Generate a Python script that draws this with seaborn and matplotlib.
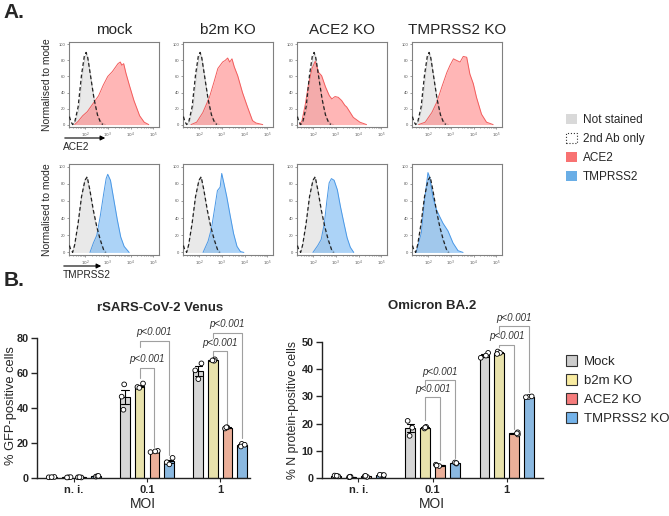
import numpy as np
import pandas as pd
import matplotlib
matplotlib.use("Agg")
import matplotlib.pyplot as plt
import seaborn as sns
from matplotlib.patches import Patch

# ---------------- DATA ----------------
# Panel A: flow histograms (x = log10 fluorescence, y = % of mode)
hist_cols = ["mock", "b2m KO", "ACE2 KO", "TMPRSS2 KO"]

ns_top_x = [1.45, 1.6, 1.75, 1.9, 2.0, 2.07, 2.15, 2.3, 2.45, 2.6, 2.75, 2.9]
ns_top_y = [0, 4, 22, 62, 84, 88, 80, 50, 24, 9, 2, 0]
ab2_top_x = [1.32, 1.38, 1.46, 1.55, 1.7, 1.85, 1.97, 2.05, 2.12, 2.25, 2.4, 2.55, 2.68, 2.78]
ab2_top_y = [10, 4, 0, 3, 22, 62, 85, 90, 84, 60, 32, 12, 3, 0]

ns_bot_x = [1.45, 1.55, 1.7, 1.85, 2.0, 2.08, 2.2, 2.35, 2.5, 2.65, 2.8, 2.95]
ns_bot_y = [0, 8, 32, 64, 84, 88, 75, 50, 30, 14, 4, 0]
ab2_bot_x = [1.32, 1.38, 1.46, 1.55, 1.7, 1.85, 2.0, 2.1, 2.22, 2.37, 2.52, 2.67, 2.82, 2.9]
ab2_bot_y = [8, 3, 0, 9, 34, 65, 84, 88, 72, 49, 30, 15, 3, 0]

ace2_mock_x = [1.55, 1.7, 1.9, 2.1, 2.3, 2.6, 2.8, 3.0, 3.2, 3.35, 3.45, 3.55, 3.62, 3.7, 3.8, 3.95, 4.15, 4.4, 4.6, 4.8]
ace2_mock_y = [0, 4, 11, 16, 24, 36, 49, 60, 66, 72, 76, 78, 74, 76, 64, 49, 30, 11, 3, 0]
ace2_b2m_x = [1.65, 1.9, 2.17, 2.46, 2.68, 2.83, 3.04, 3.15, 3.26, 3.35, 3.45, 3.55, 3.7, 3.91, 4.13, 4.35, 4.5, 4.8]
ace2_b2m_y = [0, 3, 15, 34, 55, 70, 78, 80, 83, 78, 82, 72, 61, 40, 22, 5, 2, 0]
ace2_ace2ko_x = [1.42, 1.52, 1.67, 1.81, 1.96, 2.1, 2.25, 2.38, 2.55, 2.72, 2.83, 2.97, 3.11, 3.26, 3.4, 3.48, 3.77, 4.06, 4.35]
ace2_ace2ko_y = [0, 5, 26, 51, 70, 79, 65, 61, 47, 36, 32, 35, 34, 30, 24, 22, 9, 3, 0]
ace2_tmpko_x = [1.59, 1.88, 2.17, 2.39, 2.61, 2.83, 2.97, 3.12, 3.26, 3.41, 3.55, 3.7, 3.84, 3.99, 4.13, 4.35, 4.57, 4.86]
ace2_tmpko_y = [0, 3, 15, 28, 47, 65, 74, 82, 80, 78, 85, 84, 63, 51, 34, 13, 3, 0]

tmp_mock_x = [2.22, 2.37, 2.52, 2.67, 2.82, 2.93, 3.0, 3.12, 3.27, 3.42, 3.57, 3.72, 3.94]
tmp_mock_y = [0, 11, 20, 42, 68, 86, 91, 84, 61, 38, 18, 7, 0]
tmp_b2m_x = [2.18, 2.4, 2.55, 2.7, 2.81, 2.93, 3.0, 3.1, 3.22, 3.37, 3.52, 3.67, 3.82, 3.97]
tmp_b2m_y = [0, 13, 28, 53, 72, 76, 92, 80, 65, 43, 22, 7, 1, 0]
tmp_ace2ko_x = [2.0, 2.21, 2.36, 2.5, 2.61, 2.71, 2.81, 2.93, 3.07, 3.21, 3.36, 3.5, 3.64, 3.79]
tmp_ace2ko_y = [0, 8, 15, 34, 60, 81, 86, 84, 73, 53, 34, 17, 6, 0]
tmp_tmpko_x = [1.49, 1.71, 1.85, 2.0, 2.07, 2.22, 2.37, 2.51, 2.66, 2.88, 3.1, 3.32, 3.54]
tmp_tmpko_y = [0, 23, 60, 93, 88, 64, 50, 42, 34, 25, 11, 2, 0]

# Panel B: bar charts (3 replicates each)
moi_labels = ["n. i.", "0.1", "1"]
conditions = ["Mock", "b2m KO", "ACE2 KO", "TMPRSS2 KO"]

gfp_mock = [[0.4, 0.6, 0.5], [53.5, 46.5, 39.0], [65.5, 61.5, 56.5]]
gfp_b2m = [[0.4, 0.5, 0.3], [54.0, 52.0, 51.5], [67.8, 67.0, 67.2]]
gfp_ace2 = [[0.3, 0.4, 0.5], [15.5, 14.8, 15.2], [28.3, 28.9, 29.0]]
gfp_tmp = [[0.8, 1.0, 1.2], [11.5, 9.0, 7.8], [19.5, 18.0, 19.0]]

n_mock = [[0.6, 0.9, 0.8], [21.0, 18.5, 15.5], [46.0, 45.0, 44.2]]
n_b2m = [[0.3, 0.5, 0.4], [18.2, 18.8, 18.6], [46.5, 46.0, 45.6]]
n_ace2 = [[0.4, 0.6, 0.8], [4.4, 4.9, 4.6], [16.0, 16.8, 16.4]]
n_tmp = [[1.0, 1.2, 1.1], [5.3, 5.7, 5.5], [29.8, 30.0, 29.7]]

# brackets: (moi index, from cond, to cond, line y, left leg bottom, right leg bottom)
gfp_brackets = [(1, 1, 2, 63, 57, 18), (1, 1, 3, 78.5, 75, 13),
                (2, 1, 2, 72.5, 70, 31), (2, 1, 3, 83, 80, 23)]
n_brackets = [(1, 1, 2, 29.6, 21.5, 6.5), (1, 1, 3, 36, 33, 7.2),
              (2, 1, 2, 49, 48, 18), (2, 1, 3, 55.7, 53, 31.5)]
p_text = "p<0.001"

bar_colors = ["#d6d6d6", "#f2eaa2", "#f9a98b", "#7cb9ee"]
legend_b_colors = ["#cccccc", "#f8eba0", "#f57c7c", "#74b3ea"]

# ---------------- FIGURE ----------------
sns.set_theme(style="ticks")
plt.rcParams['font.family'] = ['Liberation Sans', 'DejaVu Sans']
np.random.seed(7)

W, H = 669, 516
fig = plt.figure(figsize=(W / 100, H / 100), dpi=100)


def ax_px(left, top, width, height):
    return fig.add_axes([left / W, 1 - (top + height) / H, width / W, height / H])


def ftext(x, y, s, **kw):
    return fig.text(x / W, 1 - y / H, s, **kw)


# ---- Panel A ----
col_lefts = [69, 183, 297, 412]
hist_w = 90
rows = [
    dict(top=42, h=85, ns=(ns_top_x, ns_top_y), ab=(ab2_top_x, ab2_top_y),
         stain=[(ace2_mock_x, ace2_mock_y), (ace2_b2m_x, ace2_b2m_y),
                (ace2_ace2ko_x, ace2_ace2ko_y), (ace2_tmpko_x, ace2_tmpko_y)],
         fill="#ff6f6f", edge="#f25c5c"),
    dict(top=164, h=91, ns=(ns_bot_x, ns_bot_y), ab=(ab2_bot_x, ab2_bot_y),
         stain=[(tmp_mock_x, tmp_mock_y), (tmp_b2m_x, tmp_b2m_y),
                (tmp_ace2ko_x, tmp_ace2ko_y), (tmp_tmpko_x, tmp_tmpko_y)],
         fill="#5aa8f0", edge="#4a98e6"),
]
minor = [np.log10(k) + d for d in range(1, 6) for k in range(2, 10)]
for r, row in enumerate(rows):
    for c in range(4):
        ax = ax_px(col_lefts[c], row["top"], hist_w, row["h"])
        nx, ny = row["ns"]
        ax.fill_between(nx, ny, color="#e9e9e9", lw=0, zorder=1)
        ax.plot(nx, ny, color="#c4c4c4", lw=0.6, zorder=1.5)
        sx, sy = row["stain"][c]
        ax.fill_between(sx, sy, color=row["fill"], alpha=0.5, lw=0, zorder=2)
        ax.plot(sx, sy, color=row["edge"], lw=0.7, zorder=2.5)
        bx, by = row["ab"]
        sns.lineplot(x=bx, y=by, ax=ax, color="#222222", lw=0.9,
                     linestyle=(0, (3, 2)), sort=False, estimator=None, zorder=3)
        ax.set_xlim(1.3, 5.25)
        ax.set_ylim(-3, 103)
        ax.set_xticks([2, 3, 4, 5])
        ax.set_xticklabels([r"$10^2$", r"$10^3$", r"$10^4$", r"$10^5$"], fontsize=3)
        ax.set_xticks([m for m in minor if 1.3 < m < 5.25], minor=True)
        ax.set_yticks([0, 20, 40, 60, 80, 100])
        ax.set_yticklabels(["0", "20", "40", "60", "80", "100"], fontsize=3)
        ax.tick_params(which="both", length=1.5, width=0.4, pad=1, colors="#555555")
        ax.tick_params(which="minor", length=1.0)
        for sp in ax.spines.values():
            sp.set_color("#808080")
            sp.set_linewidth(0.8)
        ax.set_xlabel("")
        ax.set_ylabel("")
        if r == 0:
            ftext(col_lefts[c] + hist_w / 2, 30, hist_cols[c], fontsize=11,
                  ha="center", va="center")
    ftext(47, row["top"] + row["h"] / 2, "Normalised to mode", fontsize=7.5,
          rotation=90, ha="center", va="center")

# marker arrows
fig.add_artist(plt.Annotation("", xy=(108 / W, 1 - 138 / H), xytext=(62 / W, 1 - 138 / H),
                              xycoords="figure fraction",
                              arrowprops=dict(arrowstyle="-|>", lw=0.8, color="black",
                                              mutation_scale=7)))
ftext(63, 147, "ACE2", fontsize=7.3, ha="left", va="center")
fig.add_artist(plt.Annotation("", xy=(104 / W, 1 - 266 / H), xytext=(61 / W, 1 - 266 / H),
                              xycoords="figure fraction",
                              arrowprops=dict(arrowstyle="-|>", lw=0.8, color="black",
                                              mutation_scale=7)))
ftext(63, 275, "TMPRSS2", fontsize=7.3, ha="left", va="center")

# legend A
handles_a = [Patch(facecolor="#d9d9d9", edgecolor="none"),
             Patch(facecolor="white", edgecolor="#333333", linestyle=":", linewidth=0.8),
             Patch(facecolor="#f87272", edgecolor="none"),
             Patch(facecolor="#6aaee6", edgecolor="none")]
fig.legend(handles_a, ["Not stained", "2nd Ab only", "ACE2", "TMPRSS2"],
           loc="upper left", bbox_to_anchor=(566 / W, 1 - 114 / H), frameon=False,
           fontsize=8.5, handlelength=0.9, handleheight=0.9, handletextpad=0.5,
           labelspacing=0.6, borderaxespad=0, borderpad=0)

ftext(3, 12, "A.", fontsize=15, fontweight="bold", ha="left", va="center")
ftext(4, 281, "B.", fontsize=15, fontweight="bold", ha="left", va="center")


# ---- Panel B ----
def make_df(series):
    recs = []
    for cond, vals in zip(conditions, series):
        for moi, reps in zip(moi_labels, vals):
            for v in reps:
                recs.append(dict(moi=moi, cond=cond, val=v))
    return pd.DataFrame(recs)


def bar_panel(ax, df, ymax, ystep, xlim, brackets):
    sns.barplot(data=df, x="moi", y="val", hue="cond", order=moi_labels,
                hue_order=conditions, palette=bar_colors, errorbar="se",
                capsize=0.4, err_kws={"color": "black", "linewidth": 0.8},
                width=0.8, gap=0.35, edgecolor="black", linewidth=0.8,
                ax=ax, legend=False)
    sns.stripplot(data=df, x="moi", y="val", hue="cond", order=moi_labels,
                  hue_order=conditions, palette={c: "white" for c in conditions},
                  dodge=True, jitter=0.22, size=3.4, edgecolor="black", linewidth=0.6,
                  ax=ax, legend=False, zorder=4, clip_on=False)
    ax.set_xlim(*xlim)
    ax.set_ylim(0, ymax)
    ax.set_yticks(np.arange(0, ymax + 0.1, ystep))
    sns.despine(ax=ax)
    for sp in ["left", "bottom"]:
        ax.spines[sp].set_linewidth(1.0)
        ax.spines[sp].set_color("#222222")
    ax.tick_params(axis="y", length=4, width=1.0, labelsize=7.8, pad=2)
    ax.tick_params(axis="x", length=3, width=0.8, labelsize=8, pad=2)
    for lab in ax.get_yticklabels() + ax.get_xticklabels():
        lab.set_fontweight("bold")
    ax.set_xlabel("")
    ax.set_ylabel("")
    centers = {}
    for h_i, cont in enumerate(ax.containers[:4]):
        for g_i, bar in enumerate(cont):
            centers[(g_i, h_i)] = bar.get_x() + bar.get_width() / 2
    for g, c1, c2, y, yl, yr in brackets:
        x1, x2 = centers[(g, c1)], centers[(g, c2)]
        ax.plot([x1, x1, x2, x2], [yl, y, y, yr], color="#a0a0a0", lw=0.8,
                clip_on=False, zorder=3)
        ax.annotate(p_text, xy=((x1 + x2) / 2, y), xytext=(0, 2.5),
                    textcoords="offset points", ha="center", va="bottom",
                    fontsize=7, style="italic", color="#333333", annotation_clip=False)


ax1 = ax_px(37, 338, 213, 140)
bar_panel(ax1, make_df([gfp_mock, gfp_b2m, gfp_ace2, gfp_tmp]), 80, 20,
          (-0.507, 2.41), gfp_brackets)
ax2 = ax_px(322, 342, 221, 136)
bar_panel(ax2, make_df([n_mock, n_b2m, n_ace2, n_tmp]), 50, 10,
          (-0.49, 2.49), n_brackets)

ftext(160, 308, "rSARS-CoV-2 Venus", fontsize=9.5, fontweight="bold", ha="center", va="center")
ftext(432, 306, "Omicron BA.2", fontsize=9.5, fontweight="bold", ha="center", va="center")
ftext(143, 504, "MOI", fontsize=10, ha="center", va="center")
ftext(432, 504, "MOI", fontsize=10, ha="center", va="center")
ftext(11, 406, "% GFP-positive cells", fontsize=9.3, rotation=90, ha="center", va="center")
ftext(293, 410, "% N protein-positive cells", fontsize=8.8, rotation=90, ha="center", va="center")

handles_b = [Patch(facecolor=c, edgecolor="#333333", linewidth=0.8) for c in legend_b_colors]
fig.legend(handles_b, conditions, loc="upper left", bbox_to_anchor=(566 / W, 1 - 355 / H),
           frameon=False, fontsize=9.5, handlelength=0.85, handleheight=0.9,
           handletextpad=0.5, labelspacing=0.45, borderaxespad=0, borderpad=0)

fig.savefig("out.png", dpi=100)
